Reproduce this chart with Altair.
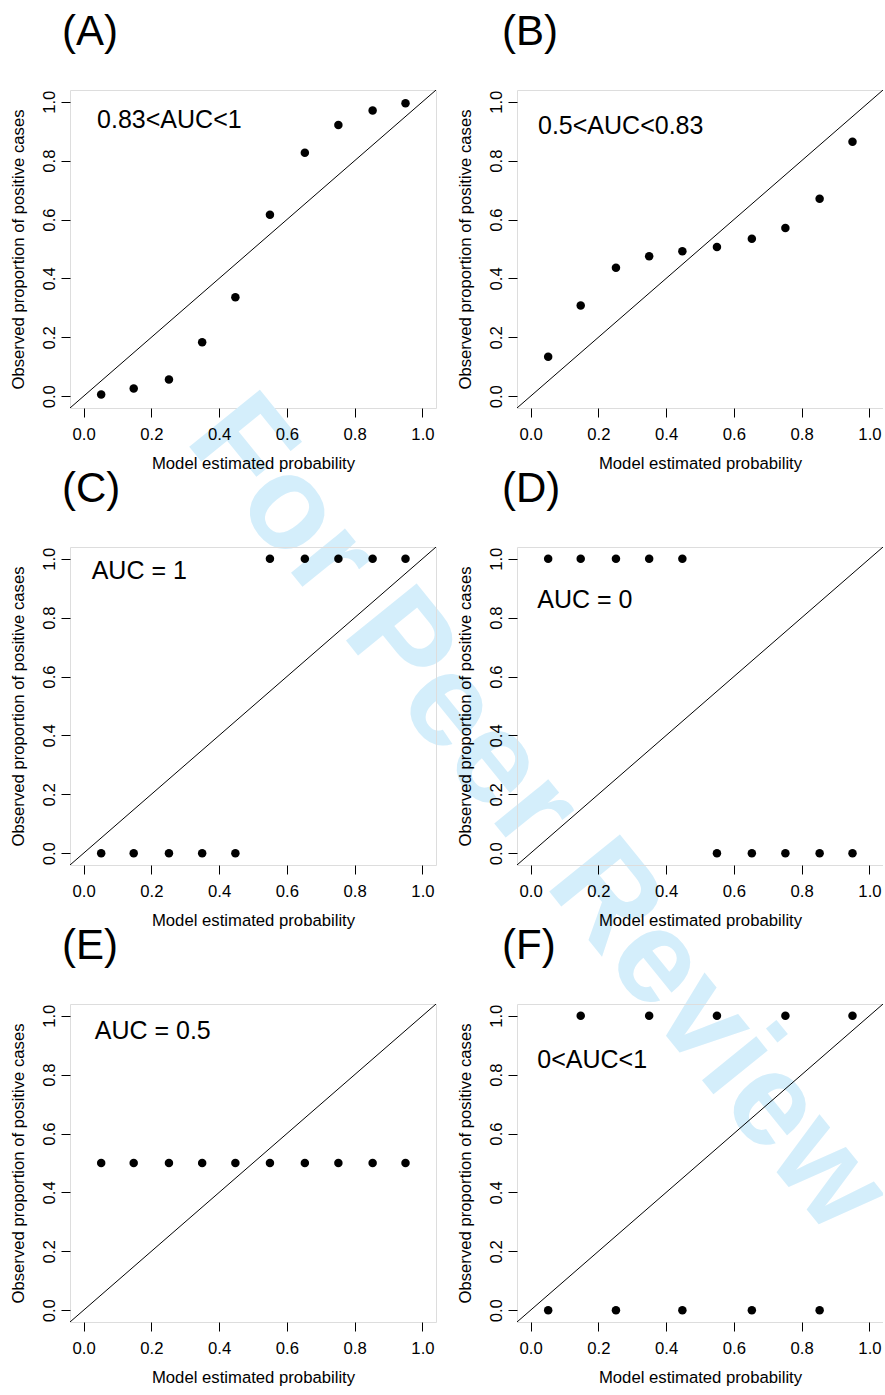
import altair as alt
import pandas as pd

# ---- data ----
x_vals = [0.052, 0.148, 0.252, 0.350, 0.448, 0.550, 0.653, 0.752, 0.853, 0.950]
y_A = [0.006, 0.026, 0.057, 0.183, 0.336, 0.616, 0.827, 0.921, 0.970, 0.995]
y_B = [0.134, 0.308, 0.436, 0.475, 0.492, 0.507, 0.535, 0.571, 0.671, 0.864]
y_C = [0, 0, 0, 0, 0, 1, 1, 1, 1, 1]
y_D = [1, 1, 1, 1, 1, 0, 0, 0, 0, 0]
y_E = [0.5, 0.5, 0.5, 0.5, 0.5, 0.5, 0.5, 0.5, 0.5, 0.5]
y_F = [0, 1, 0, 1, 0, 1, 0, 1, 0, 1]
series = [y_A, y_B, y_C, y_D, y_E, y_F]

panel_labels = ["(A)", "(B)", "(C)", "(D)", "(E)", "(F)"]
auc_labels = ["0.83<AUC<1", "0.5<AUC<0.83", "AUC = 1", "AUC = 0", "AUC = 0.5", "0<AUC<1"]
auc_x = [0.040, 0.022, 0.024, 0.020, 0.033, 0.020]
auc_y = [0.910, 0.890, 0.930, 0.832, 0.922, 0.822]
tick_values = [0.0, 0.2, 0.4, 0.6, 0.8, 1.0]
diag_start = [-0.04]
diag_end = [1.04]
x_title = "Model estimated probability"
y_title = "Observed proportion of positive cases"
watermark_text = "For Peer Review"

W, H = 366, 318
FONT = "Liberation Sans"
FS = 16.7


def panel(i, watermark=False):
    xs = alt.Scale(domain=[-0.04, 1.04], nice=False, zero=False)
    ys = alt.Scale(domain=[-0.04, 1.04], nice=False, zero=False)
    xax = alt.Axis(values=tick_values, format=".1f", grid=False, domain=False,
                   tickSize=9, tickColor="black", tickWidth=1,
                   labelFont=FONT, labelFontSize=FS, labelColor="black",
                   labelPadding=9, labelBaseline="top", labelAlign="center",
                   labelFlush=False, labelOverlap=False,
                   title=x_title, titleFont=FONT, titleFontSize=FS,
                   titleFontWeight="normal", titleColor="black",
                   titleX=W / 2, titleY=60, titleAlign="center",
                   titleBaseline="alphabetic", zindex=1)
    yax = alt.Axis(values=tick_values, format=".1f", grid=False, domain=False,
                   tickSize=9, tickColor="black", tickWidth=1,
                   labelFont=FONT, labelFontSize=FS, labelColor="black",
                   labelAngle=270, labelAlign="center", labelBaseline="alphabetic",
                   labelPadding=7, labelFlush=False, labelOverlap=False,
                   title=y_title, titleFont=FONT, titleFontSize=FS,
                   titleFontWeight="normal", titleColor="black",
                   titleAngle=270, titleX=-52, titleY=H / 2,
                   titleAlign="center", titleBaseline="middle", zindex=1)

    diag_df = pd.DataFrame({"x": diag_start, "y": diag_start, "x2": diag_end, "y2": diag_end})
    diag = alt.Chart(diag_df).mark_rule(color="black", strokeWidth=1, clip=True).encode(
        x=alt.X("x:Q", scale=xs, axis=xax),
        y=alt.Y("y:Q", scale=ys, axis=yax),
        x2="x2:Q", y2="y2:Q")

    df = pd.DataFrame({"x": x_vals, "y": series[i]})
    pts = alt.Chart(df).mark_circle(size=72, color="black", opacity=1).encode(
        x=alt.X("x:Q", scale=xs, axis=xax),
        y=alt.Y("y:Q", scale=ys, axis=yax))

    tdf = pd.DataFrame({"x": [auc_x[i]], "y": [auc_y[i]], "t": [auc_labels[i]]})
    txt = alt.Chart(tdf).mark_text(align="left", baseline="alphabetic", fontSize=25,
                                   font=FONT, color="black").encode(
        x=alt.X("x:Q", scale=xs, axis=xax),
        y=alt.Y("y:Q", scale=ys, axis=yax),
        text="t:N")

    layers = [diag, pts, txt]
    if watermark:
        wm = alt.Chart(pd.DataFrame({"t": [watermark_text]})).mark_text(
            angle=51, fontSize=132, fontWeight="bold", font=FONT, color="#d4eefb",
            align="center", baseline="middle").encode(
            x=alt.value(468), y=alt.value(724), text="t:N")
        layers = [wm] + layers

    return alt.layer(*layers).properties(
        width=W, height=H,
        title=alt.TitleParams(panel_labels[i], anchor="start", fontSize=42, font=FONT,
                              fontWeight="normal", color="black", offset=3,
                              baseline="alphabetic", dx=(-8 if i % 2 == 0 else -15),
                              frame="group"))


panels = [panel(i, watermark=(i == 0)) for i in range(6)]
chart = alt.concat(*panels, columns=2, spacing={"row": 139, "column": 81},
                   bounds="flush").properties(
    padding={"left": 9, "top": 10, "right": -30, "bottom": 0}
).configure_view(stroke="black", strokeWidth=1).configure(background="white")

chart.save("out.html", embed_options={"renderer": "svg", "actions": False})
